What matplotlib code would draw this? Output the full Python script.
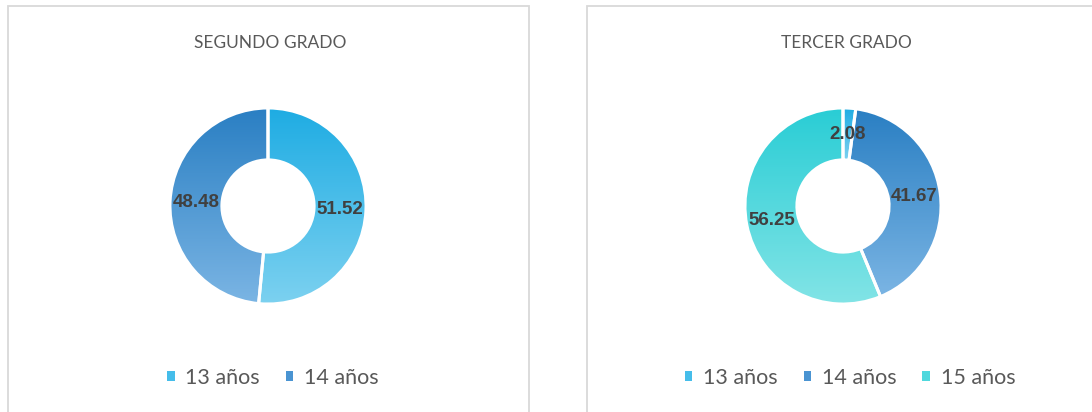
import numpy as np
import matplotlib
matplotlib.use("Agg")
import matplotlib.pyplot as plt
from matplotlib.patches import Rectangle, Patch
from matplotlib.colors import LinearSegmentedColormap

# datos
titulos = ["SEGUNDO GRADO", "TERCER GRADO"]
edades_2 = ["13 años", "14 años"]
valores_2 = [51.52, 48.48]
edades_3 = ["13 años", "14 años", "15 años"]
valores_3 = [2.08, 41.67, 56.25]

# degradado (arriba, abajo) por edad
col_arriba = {"13 años": "#1EACE3", "14 años": "#2A7FC3", "15 años": "#29CDD5"}
col_abajo = {"13 años": "#7CD1F0", "14 años": "#7BB5E4", "15 años": "#82E4E6"}
col_medio = {"13 años": "#45BDEA", "14 años": "#4A94D2", "15 años": "#4FD8DD"}

plt.rcParams['font.family'] = ['Lato', 'DejaVu Sans']

W, H = 1092, 412
fig = plt.figure(figsize=(W / 100, H / 100), dpi=100)
fig.patch.set_facecolor("white")

def px(x, y, w, h):
    return [x / W, 1 - (y + h) / H, w / W, h / H]

# marcos de los paneles
for x0, ancho in [(7.5, 521), (586.5, 521)]:
    fig.patches.append(Rectangle((x0 / W, -0.1), ancho / W, 1.1 - 6.5 / H,
                                 transform=fig.transFigure, fill=False,
                                 edgecolor="#D9D9D9", linewidth=1.3))

def dona(cx, cy, edades, valores, titulo, tx, leg_x):
    r = 100
    ax = fig.add_axes(px(cx - r, cy - r, 2 * r, 2 * r))
    wedges, _ = ax.pie(valores, startangle=90, counterclock=False, radius=1,
                       wedgeprops=dict(width=0.53, edgecolor="white", linewidth=2.2))
    for w, e in zip(wedges, edades):
        ext = w.get_path().get_extents()
        cmap = LinearSegmentedColormap.from_list("g", [col_arriba[e], col_abajo[e]])
        grad = np.linspace(0, 1, 256).reshape(-1, 1)
        im = ax.imshow(grad, cmap=cmap, extent=(ext.x0, ext.x1, ext.y0, ext.y1),
                       origin="upper", aspect="auto", interpolation="bilinear", zorder=1)
        im.set_clip_path(w)
        w.set_facecolor("none")
        w.set_zorder(2)
    for w, v in zip(wedges, valores):
        ang = np.deg2rad((w.theta1 + w.theta2) / 2)
        ax.text(0.735 * np.cos(ang), 0.735 * np.sin(ang), f"{v:.2f}",
                ha="center", va="center", fontsize=13.5, fontweight="bold",
                family="Liberation Sans", color="#404040", zorder=3)
    ax.set_xlim(-1.02, 1.02)
    ax.set_ylim(-1.02, 1.02)
    ax.set_aspect("equal")
    ax.axis("off")

    fig.text(tx / W, 1 - 43 / H, titulo, ha="center", va="center",
             fontsize=12.5, color="#595959")

    handles = [Patch(facecolor=col_medio[e], edgecolor="none") for e in edades]
    fig.legend(handles, edades, loc="center", bbox_to_anchor=(leg_x / W, 1 - 378 / H),
               ncol=len(edades), frameon=False, fontsize=15.5, labelcolor="#595959",
               handlelength=0.35, handleheight=0.35, handletextpad=0.5,
               columnspacing=1.2, borderpad=0)

dona(268, 206, edades_2, valores_2, titulos[0], 270, 273)
dona(843, 206, edades_3, valores_3, titulos[1], 846, 850)

fig.savefig("out.png", dpi=100, facecolor="white")
